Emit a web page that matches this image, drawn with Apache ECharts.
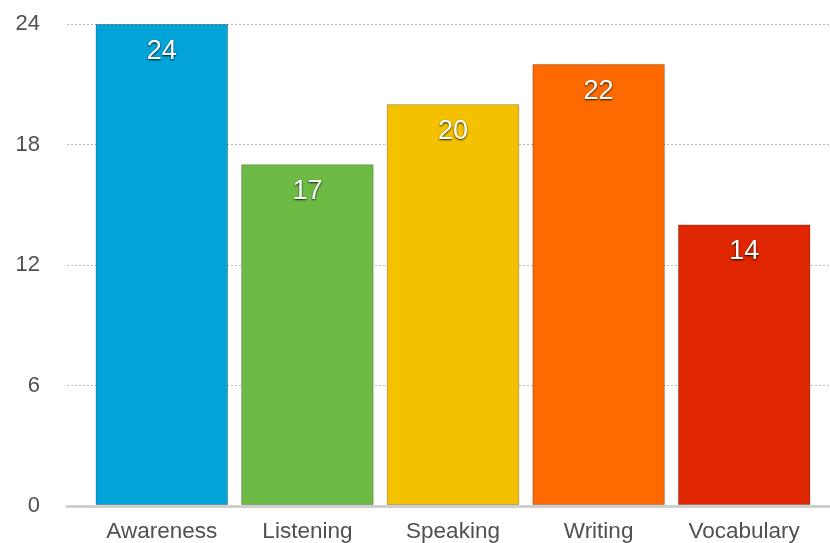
<!DOCTYPE html>
<html>
<head>
<meta charset="utf-8">
<script src="https://cdn.jsdelivr.net/npm/echarts@6/dist/echarts.min.js"></script>
<style>
html, body { margin: 0; padding: 0; background: #fff; }
#chart { width: 830px; height: 543px; }
</style>
</head>
<body>
<div id="chart"></div>
<script>
const categories = ['Awareness', 'Listening', 'Speaking', 'Writing', 'Vocabulary']
const values = [24, 17, 20, 22, 14]
const barColors = ['#02a3d8', '#6dba45', '#f4c100', '#fe6a00', '#e02600']
const yTicks = [0, 6, 12, 18, 24]

const chart = echarts.init(document.getElementById('chart'))

const option = {
    animation: false,
    textStyle: {fontFamily: 'Liberation Sans, Arial, sans-serif'},
    grid: [
        // background grid: y labels, dotted lines, base line
        {left: 67, right: 0, top: 24, bottom: 37},
        // bar area, starts a bit to the right of the lines
        {left: 89, right: 13, top: 24, bottom: 37}
    ],
    xAxis: [
        {
            type: 'value',
            gridIndex: 0,
            min: 0,
            max: 1,
            axisLine: {show: true, lineStyle: {color: '#cfcfcf', width: 3}},
            axisTick: {show: false},
            axisLabel: {show: false},
            splitLine: {show: false}
        },
        {
            type: 'category',
            gridIndex: 1,
            data: categories,
            axisLine: {show: false},
            axisTick: {show: false},
            axisLabel: {
                color: '#505050',
                fontSize: 22.5,
                margin: 15
            }
        }
    ],
    yAxis: [
        {
            type: 'value',
            gridIndex: 0,
            min: yTicks[0],
            max: yTicks[yTicks.length - 1],
            interval: 6,
            axisLine: {show: false},
            axisTick: {show: false},
            axisLabel: {
                color: '#505050',
                fontSize: 22,
                margin: 27
            },
            splitLine: {
                lineStyle: {color: '#b8b8b8', type: [2, 2], width: 1}
            }
        },
        {
            type: 'value',
            gridIndex: 1,
            min: yTicks[0],
            max: yTicks[yTicks.length - 1],
            show: false,
            splitLine: {show: false}
        }
    ],
    series: [
        {
            type: 'bar',
            xAxisIndex: 1,
            yAxisIndex: 1,
            barCategoryGap: '9%',
            data: values.map((v, i) => ({
                value: v,
                itemStyle: {color: barColors[i]}
            })),
            itemStyle: {
                borderColor: 'rgba(0,0,0,0.25)',
                borderWidth: 1
            },
            label: {
                show: true,
                position: 'insideTop',
                distance: 14,
                color: '#fff',
                fontSize: 27,
                textShadowColor: 'rgba(0,0,0,0.85)',
                textShadowBlur: 2,
                textShadowOffsetY: 1
            }
        }
    ]
}

chart.setOption(option)
</script>
</body>
</html>
